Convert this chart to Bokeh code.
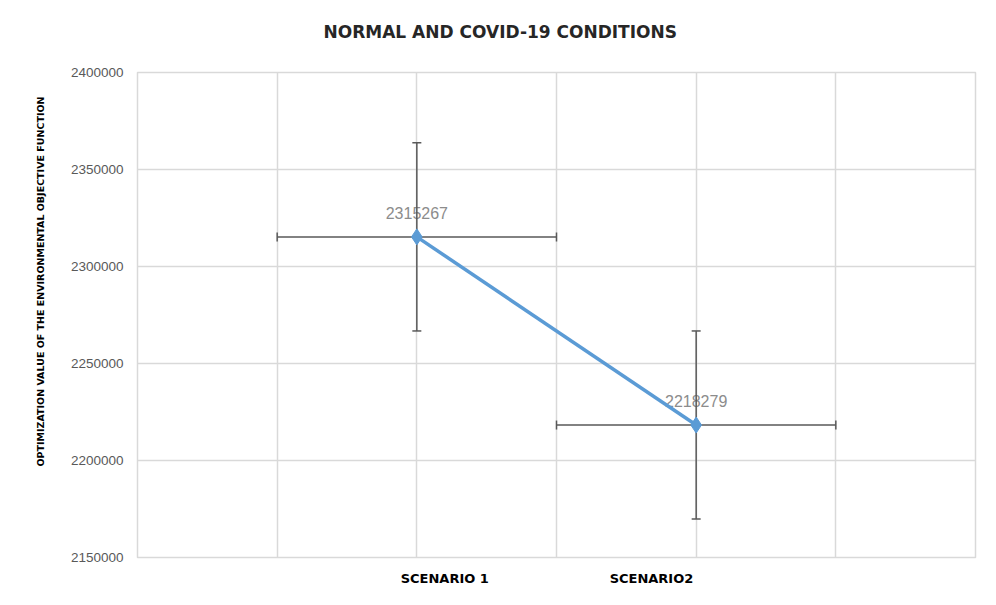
from bokeh.plotting import figure
from bokeh.models import (ColumnDataSource, Whisker, TeeHead, FixedTicker, Range1d, Title)
from bokeh.core.properties import value
from bokeh.embed import file_html
from bokeh.resources import INLINE

# ---- data ----
scenarios = ["SCENARIO 1", "SCENARIO2"]
x_pos = [1, 2]
values = [2315267, 2218279]
y_err = [48494, 48494]
x_err = [0.5, 0.5]
y_ticks = [2150000, 2200000, 2250000, 2300000, 2350000, 2400000]
x_grid_ticks = [0, 0.5, 1, 1.5, 2, 2.5, 3]
x_label_ticks = [1.1, 1.84]
y_title = "OPTIMIZATION VALUE OF THE ENVIRONMENTAL OBJECTIVE FUNCTION"

src = ColumnDataSource(dict(
    x=x_pos, y=values,
    ylo=[v - e for v, e in zip(values, y_err)],
    yhi=[v + e for v, e in zip(values, y_err)],
    xlo=[x - e for x, e in zip(x_pos, x_err)],
    xhi=[x + e for x, e in zip(x_pos, x_err)],
    lbl=[str(v) for v in values],
))

p = figure(width=980, height=589, output_backend="svg", toolbar_location=None,
           x_range=Range1d(0, 3), y_range=Range1d(y_ticks[0], y_ticks[-1]),
           min_border_left=137, min_border_right=5, min_border_top=72, min_border_bottom=32)
p.outline_line_color = "#d9d9d9"
p.outline_line_width = 1.5
p.background_fill_color = "white"
p.border_fill_color = "white"

# title
p.title = Title(text="NORMAL AND COVID-19 CONDITIONS", align="left", offset=186,
                text_font="DejaVu Sans", text_font_size="17px", text_font_style="bold",
                text_color="#262626", standoff=10)
# empty spacer between title and plot area
p.add_layout(Title(text=" ", text_font_size="14px", standoff=8), "above")

# grids
p.xgrid.ticker = FixedTicker(ticks=x_grid_ticks)
p.ygrid.ticker = FixedTicker(ticks=y_ticks)
for g in (p.xgrid, p.ygrid):
    g.grid_line_color = "#d9d9d9"
    g.grid_line_width = 1.5

# y axis
p.yaxis.ticker = FixedTicker(ticks=y_ticks)
p.yaxis.axis_line_color = None
p.yaxis.major_tick_line_color = None
p.yaxis.minor_tick_line_color = None
p.yaxis.major_tick_out = 0
p.yaxis.major_label_standoff = 14
p.yaxis.major_label_text_font = "Liberation Sans"
p.yaxis.major_label_text_font_size = "13.5px"
p.yaxis.major_label_text_color = "#595959"
p.yaxis.formatter.use_scientific = False

# y axis title (off-centre like the reference)
p.add_layout(Title(text=y_title, align="left", offset=91, standoff=44,
                   text_font="DejaVu Sans", text_font_size="9.5px", text_font_style="bold",
                   text_color="#000000"), "left")

# x axis
p.xaxis.ticker = FixedTicker(ticks=x_label_ticks)
p.xaxis.major_label_overrides = {t: s for t, s in zip(x_label_ticks, scenarios)}
p.xaxis.axis_line_color = None
p.xaxis.major_tick_line_color = None
p.xaxis.minor_tick_line_color = None
p.xaxis.major_tick_out = 0
p.xaxis.major_label_standoff = 13
p.xaxis.major_label_text_font = "DejaVu Sans"
p.xaxis.major_label_text_font_size = "13px"
p.xaxis.major_label_text_font_style = "bold"
p.xaxis.major_label_text_color = "#000000"

# data labels
p.text(x="x", y="y", text="lbl", source=src, y_offset=-24,
       text_align="center", text_baseline="middle",
       text_font=value("Liberation Sans"), text_font_size="16px", text_color="#8c8c8c")

# error bars
ecol = "#595959"
vw = Whisker(base="x", lower="ylo", upper="yhi", source=src, dimension="height",
             line_color=ecol, line_width=1.5, level="glyph",
             lower_head=TeeHead(size=9, line_color=ecol, line_width=1.5),
             upper_head=TeeHead(size=9, line_color=ecol, line_width=1.5))
hw = Whisker(base="y", lower="xlo", upper="xhi", source=src, dimension="width",
             line_color=ecol, line_width=1.5, level="glyph",
             lower_head=TeeHead(size=9, line_color=ecol, line_width=1.5),
             upper_head=TeeHead(size=9, line_color=ecol, line_width=1.5))
p.add_layout(vw)
p.add_layout(hw)

# series
p.line(x="x", y="y", source=src, line_color="#5b9bd5", line_width=3.5, level="overlay")
p.scatter(x="x", y="y", source=src, marker="diamond", size=16, fill_color="#5b9bd5",
          line_color="#5b9bd5", level="overlay")

open("out.html", "w").write(file_html(p, INLINE))
